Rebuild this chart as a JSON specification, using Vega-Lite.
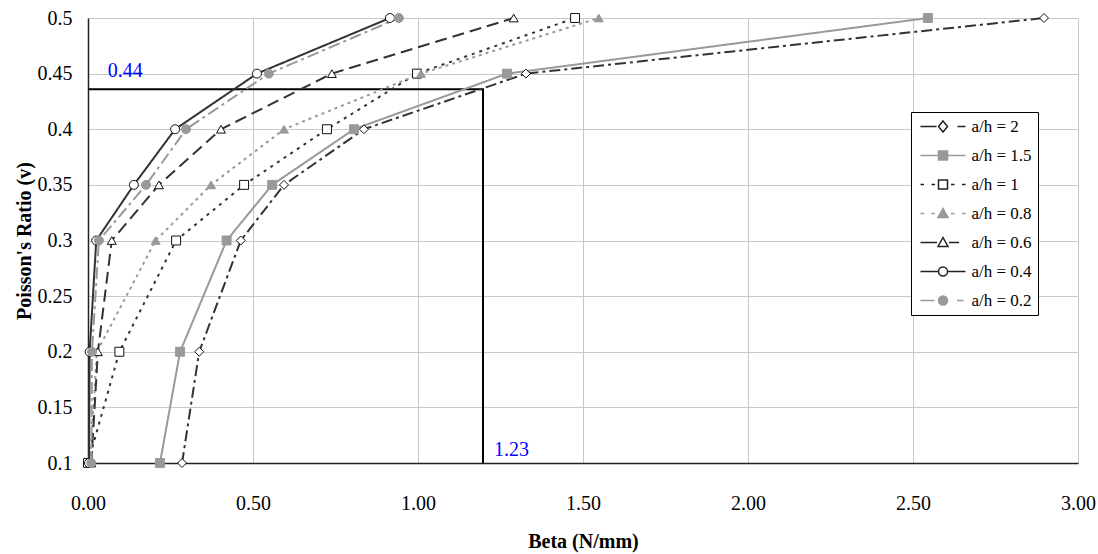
{
  "$schema": "https://vega.github.io/schema/vega-lite/v6.json",
  "width": 990,
  "height": 445,
  "autosize": {"type": "none"},
  "padding": {"left": 88, "top": 18, "right": 20, "bottom": 91},
  "background": "white",
  "config": {
    "font": "Liberation Serif",
    "view": {"stroke": null},
    "axis": {
      "labelFont": "Liberation Serif",
      "titleFont": "Liberation Serif",
      "labelFontSize": 20,
      "titleFontSize": 20,
      "labelColor": "#000",
      "titleColor": "#000",
      "gridColor": "#c8c8c8",
      "gridWidth": 1,
      "domainColor": "#222",
      "domainWidth": 1.5,
      "ticks": false
    },
    "legend": {"labelFont": "Liberation Serif"}
  },
  "datasets": {
    "curves": [
      {"series": "a/h = 2", "beta": 0.285, "nu": 0.1},
      {"series": "a/h = 2", "beta": 0.337, "nu": 0.2},
      {"series": "a/h = 2", "beta": 0.463, "nu": 0.3},
      {"series": "a/h = 2", "beta": 0.594, "nu": 0.35},
      {"series": "a/h = 2", "beta": 0.836, "nu": 0.4},
      {"series": "a/h = 2", "beta": 1.327, "nu": 0.45},
      {"series": "a/h = 2", "beta": 2.897, "nu": 0.5},
      {"series": "a/h = 1.5", "beta": 0.218, "nu": 0.1},
      {"series": "a/h = 1.5", "beta": 0.279, "nu": 0.2},
      {"series": "a/h = 1.5", "beta": 0.42, "nu": 0.3},
      {"series": "a/h = 1.5", "beta": 0.558, "nu": 0.35},
      {"series": "a/h = 1.5", "beta": 0.806, "nu": 0.4},
      {"series": "a/h = 1.5", "beta": 1.27, "nu": 0.45},
      {"series": "a/h = 1.5", "beta": 2.545, "nu": 0.5},
      {"series": "a/h = 1", "beta": 0.0, "nu": 0.1},
      {"series": "a/h = 1", "beta": 0.095, "nu": 0.2},
      {"series": "a/h = 1", "beta": 0.267, "nu": 0.3},
      {"series": "a/h = 1", "beta": 0.473, "nu": 0.35},
      {"series": "a/h = 1", "beta": 0.724, "nu": 0.4},
      {"series": "a/h = 1", "beta": 0.997, "nu": 0.45},
      {"series": "a/h = 1", "beta": 1.476, "nu": 0.5},
      {"series": "a/h = 0.8", "beta": 0.006, "nu": 0.1},
      {"series": "a/h = 0.8", "beta": 0.027, "nu": 0.2},
      {"series": "a/h = 0.8", "beta": 0.205, "nu": 0.3},
      {"series": "a/h = 0.8", "beta": 0.373, "nu": 0.35},
      {"series": "a/h = 0.8", "beta": 0.594, "nu": 0.4},
      {"series": "a/h = 0.8", "beta": 1.009, "nu": 0.45},
      {"series": "a/h = 0.8", "beta": 1.548, "nu": 0.5},
      {"series": "a/h = 0.6", "beta": 0.01, "nu": 0.1},
      {"series": "a/h = 0.6", "beta": 0.03, "nu": 0.2},
      {"series": "a/h = 0.6", "beta": 0.072, "nu": 0.3},
      {"series": "a/h = 0.6", "beta": 0.215, "nu": 0.35},
      {"series": "a/h = 0.6", "beta": 0.403, "nu": 0.4},
      {"series": "a/h = 0.6", "beta": 0.739, "nu": 0.45},
      {"series": "a/h = 0.6", "beta": 1.29, "nu": 0.5},
      {"series": "a/h = 0.4", "beta": 0.003, "nu": 0.1},
      {"series": "a/h = 0.4", "beta": 0.005, "nu": 0.2},
      {"series": "a/h = 0.4", "beta": 0.025, "nu": 0.3},
      {"series": "a/h = 0.4", "beta": 0.139, "nu": 0.35},
      {"series": "a/h = 0.4", "beta": 0.264, "nu": 0.4},
      {"series": "a/h = 0.4", "beta": 0.512, "nu": 0.45},
      {"series": "a/h = 0.4", "beta": 0.915, "nu": 0.5},
      {"series": "a/h = 0.2", "beta": 0.01, "nu": 0.1},
      {"series": "a/h = 0.2", "beta": 0.012, "nu": 0.2},
      {"series": "a/h = 0.2", "beta": 0.033, "nu": 0.3},
      {"series": "a/h = 0.2", "beta": 0.176, "nu": 0.35},
      {"series": "a/h = 0.2", "beta": 0.297, "nu": 0.4},
      {"series": "a/h = 0.2", "beta": 0.548, "nu": 0.45},
      {"series": "a/h = 0.2", "beta": 0.942, "nu": 0.5}
    ],
    "refline": [
      {"beta": 0, "nu": 0.436, "step": 1},
      {"beta": 1.197, "nu": 0.436, "step": 2},
      {"beta": 1.197, "nu": 0.1, "step": 3}
    ],
    "notes": [
      {"label": "0.44", "beta": 0.06, "nu": 0.447},
      {"label": "1.23", "beta": 1.23, "nu": 0.106}
    ]
  },
  "encoding": {
    "x": {
      "field": "beta",
      "type": "quantitative",
      "scale": {"domain": [0, 3], "nice": false, "zero": false},
      "axis": {
        "values": [0, 0.5, 1, 1.5, 2, 2.5, 3],
        "format": ".2f",
        "title": "Beta (N/mm)",
        "titleFontWeight": "bold",
        "labelFont": "Liberation Serif",
        "labelFontSize": 20,
        "labelFlush": false,
        "labelPadding": 30,
        "titlePadding": 18
      }
    },
    "y": {
      "field": "nu",
      "type": "quantitative",
      "scale": {"domain": [0.1, 0.5], "nice": false, "zero": false},
      "axis": {
        "values": [0.1, 0.15, 0.2, 0.25, 0.3, 0.35, 0.4, 0.45, 0.5],
        "format": "~g",
        "title": "Poisson's Ratio (v)",
        "titleFontWeight": "bold",
        "labelFont": "Liberation Serif",
        "labelFontSize": 20,
        "labelPadding": 16,
        "titlePadding": 3
      }
    }
  },
  "layer": [
    {
      "data": {"name": "refline"},
      "mark": {"type": "line", "color": "#000", "strokeWidth": 2},
      "encoding": {"order": {"field": "step", "type": "quantitative"}}
    },
    {
      "data": {"name": "curves"},
      "mark": {"type": "line", "strokeWidth": 2},
      "encoding": {
        "order": {"field": "nu", "type": "quantitative"},
        "stroke": {
          "field": "series", "type": "nominal", "legend": null,
          "scale": {
            "domain": ["a/h = 2", "a/h = 1.5", "a/h = 1", "a/h = 0.8", "a/h = 0.6", "a/h = 0.4", "a/h = 0.2"],
            "range": ["#333333", "#999999", "#333333", "#999999", "#333333", "#333333", "#999999"]
          }
        },
        "strokeDash": {
          "field": "series", "type": "nominal", "legend": null,
          "scale": {
            "domain": ["a/h = 2", "a/h = 1.5", "a/h = 1", "a/h = 0.8", "a/h = 0.6", "a/h = 0.4", "a/h = 0.2"],
            "range": [[11, 4, 3, 4], [1, 0], [3, 5], [3, 4], [12, 6], [1, 0], [12, 4, 3, 4]]
          }
        }
      }
    },
    {
      "data": {"name": "curves"},
      "mark": {"type": "point", "size": 80, "strokeWidth": 1, "opacity": 1},
      "encoding": {
        "shape": {
          "field": "series", "type": "nominal", "legend": null,
          "scale": {
            "domain": ["a/h = 2", "a/h = 1.5", "a/h = 1", "a/h = 0.8", "a/h = 0.6", "a/h = 0.4", "a/h = 0.2"],
            "range": ["diamond", "square", "square", "triangle-up", "triangle-up", "circle", "circle"]
          }
        },
        "fill": {
          "field": "series", "type": "nominal", "legend": null,
          "scale": {
            "domain": ["a/h = 2", "a/h = 1.5", "a/h = 1", "a/h = 0.8", "a/h = 0.6", "a/h = 0.4", "a/h = 0.2"],
            "range": ["#ffffff", "#999999", "#ffffff", "#999999", "#ffffff", "#ffffff", "#999999"]
          }
        },
        "stroke": {
          "field": "series", "type": "nominal", "legend": null,
          "scale": {
            "domain": ["a/h = 2", "a/h = 1.5", "a/h = 1", "a/h = 0.8", "a/h = 0.6", "a/h = 0.4", "a/h = 0.2"],
            "range": ["#111111", "#999999", "#111111", "#999999", "#111111", "#111111", "#999999"]
          }
        }
      }
    },
    {
      "data": {"name": "notes"},
      "mark": {"type": "text", "color": "#0000ff", "fontSize": 20, "font": "Liberation Serif", "align": "left", "baseline": "alphabetic"},
      "encoding": {"text": {"field": "label", "type": "nominal"}}
    },
    {
      "data": {"name": "curves"},
      "mark": {"type": "point", "opacity": 0},
      "encoding": {
        "shape": {
          "field": "series", "type": "nominal",
          "scale": {
            "domain": ["a/h = 2", "a/h = 1.5", "a/h = 1", "a/h = 0.8", "a/h = 0.6", "a/h = 0.4", "a/h = 0.2"],
            "range": [
              "M-4.5,0L-1.3,0M2.9,0L4.5,0M0,-1.1L0.9,0L0,1.1L-0.9,0Z",
              "M-4.5,0L-0.9,0M0.9,0L4.5,0M-0.9,-0.9L0.9,-0.9L0.9,0.9L-0.9,0.9Z",
              "M-4.5,0L-3.8,0M-2.3,0L-1.6,0M1.6,0L2.3,0M3.8,0L4.5,0M-0.9,-0.9L0.9,-0.9L0.9,0.9L-0.9,0.9Z",
              "M-4.5,0L-3.8,0M-2.3,0L-1.6,0M1.6,0L2.3,0M3.8,0L4.5,0M0,-1L1,0.8L-1,0.8Z",
              "M-4.5,0L-1.2,0M1.2,0L3.2,0M0,-1L1,0.8L-1,0.8Z",
              "M-4.5,0L-0.9,0M0.9,0L4.5,0M0.9,0A0.9,0.9,0,1,1,-0.9,0A0.9,0.9,0,1,1,0.9,0Z",
              "M-4.5,0L-1.7,0M2.8,0L4.1,0M0.9,0A0.9,0.9,0,1,1,-0.9,0A0.9,0.9,0,1,1,0.9,0Z"
            ]
          },
          "legend": {
            "title": null, "orient": "none", "legendX": 823, "legendY": 94,
            "padding": 6, "strokeColor": "#000", "fillColor": "#fff",
            "symbolSize": 100, "symbolStrokeWidth": 1.5, "symbolOpacity": 1,
            "symbolOffset": 17.5, "labelOffset": 20, "rowPadding": 11,
            "labelFont": "Liberation Serif", "labelFontSize": 17, "labelColor": "#000"
          }
        },
        "fill": {
          "field": "series", "type": "nominal",
          "scale": {
            "domain": ["a/h = 2", "a/h = 1.5", "a/h = 1", "a/h = 0.8", "a/h = 0.6", "a/h = 0.4", "a/h = 0.2"],
            "range": ["#ffffff", "#999999", "#ffffff", "#999999", "#ffffff", "#ffffff", "#999999"]
          },
          "legend": {
            "title": null, "orient": "none", "legendX": 823, "legendY": 94,
            "padding": 6, "strokeColor": "#000", "fillColor": "#fff",
            "symbolSize": 100, "symbolStrokeWidth": 1.5, "symbolOpacity": 1,
            "symbolOffset": 17.5, "labelOffset": 20, "rowPadding": 11,
            "labelFont": "Liberation Serif", "labelFontSize": 17, "labelColor": "#000"
          }
        },
        "stroke": {
          "field": "series", "type": "nominal",
          "scale": {
            "domain": ["a/h = 2", "a/h = 1.5", "a/h = 1", "a/h = 0.8", "a/h = 0.6", "a/h = 0.4", "a/h = 0.2"],
            "range": ["#222222", "#999999", "#222222", "#999999", "#222222", "#222222", "#999999"]
          },
          "legend": {
            "title": null, "orient": "none", "legendX": 823, "legendY": 94,
            "padding": 6, "strokeColor": "#000", "fillColor": "#fff",
            "symbolSize": 100, "symbolStrokeWidth": 1.5, "symbolOpacity": 1,
            "symbolOffset": 17.5, "labelOffset": 20, "rowPadding": 11,
            "labelFont": "Liberation Serif", "labelFontSize": 17, "labelColor": "#000"
          }
        }
      }
    }
  ],
  "resolve": {
    "scale": {"shape": "independent", "fill": "independent", "stroke": "independent", "strokeDash": "independent"}
  }
}
